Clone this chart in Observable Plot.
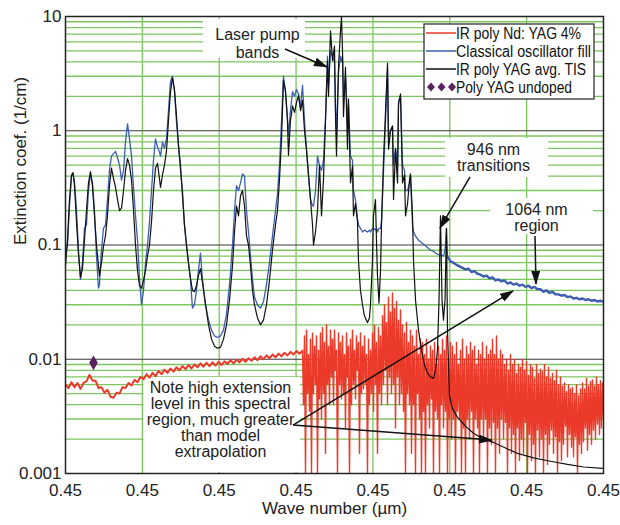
<!DOCTYPE html>
<html><head><meta charset="utf-8">
<script src="https://cdn.jsdelivr.net/npm/d3@7"></script>
<script src="https://cdn.jsdelivr.net/npm/@observablehq/plot@0.6"></script>
<style>
html,body{margin:0;padding:0;background:#fff;}
#chart{position:relative;width:620px;height:525px;}
#chart svg text{font-family:'Liberation Sans',Arial,Helvetica,sans-serif;}
#chart g[aria-label*="axis"], #chart g[aria-label*="axis"] text{font-size:17px;}
</style></head><body><div id="chart"></div>
<script>
// ---- axis tick labels ----
const xTicks = [0,1,2,3,4,5,6,7];
const xTickLabels = ["0.45","0.45","0.45","0.45","0.45","0.45","0.45","0.45"];
const yTicks = [0.001,0.01,0.1,1,10];
const yTickLabels = ["0.001","0.01","0.1","1","10"];
const decades = [0.001,0.01,0.1,1];
const mantissas = [2,3,4,5,6,7,8,9];
const xLabel = "Wave number (\u00b5m)";
const yLabel = "Extinction coef. (1/cm)";
const seriesNames = ["IR poly Nd: YAG 4%","Classical oscillator fill","IR poly YAG avg. TIS","Poly YAG undoped"];

// ---- shared wave positions for TIS and oscillator curves ----
const waveX = [
0,0.026,0.052,0.078,0.098,0.117,0.143,0.169,0.195,0.221,
0.247,0.273,0.299,0.325,0.351,0.377,0.403,0.429,0.442,0.468,
0.494,0.520,0.546,0.572,0.598,0.625,0.651,0.677,0.703,0.729,
0.755,0.781,0.807,0.833,0.859,0.885,0.911,0.937,0.963,0.989,
1.015,1.041,1.067,1.093,1.119,1.145,1.171,1.197,1.223,1.236,
1.262,1.288,1.314,1.340,1.366,1.392,1.418,1.444,1.470,1.496,
1.522,1.548,1.574,1.600,1.626,1.652,1.678,1.704,1.730,1.756,
1.782,1.822,1.861,1.900,1.939,1.978,2.017,2.056,2.095,2.134,
2.173,2.199,2.225,2.251,2.277,2.303,2.329,2.355,2.381,2.407,
2.433,2.459,2.498,2.537,2.576,2.615,2.654,2.693,2.732,2.758,
2.784,2.810,2.836,2.862,2.888,2.901,2.927,2.954,2.980,3.006,
3.032,3.058,3.084,3.110,3.136,3.162,3.188,3.214,3.227,3.253,
3.279,3.305,3.331,3.357,3.383,3.409,3.422,3.448,3.474,3.500,
3.513,3.526,3.552,3.578,3.591,3.604,3.617,3.643,3.669,3.682,
3.708,3.734,3.747,3.773,3.799,3.812,3.838,3.864,3.890,3.929,
3.955,3.968,3.994,4.007,4.033,4.046,4.059,4.079,4.099,4.112,
4.138,4.164,4.190,4.203,4.229,4.255,4.268,4.294,4.320,4.333,
4.359,4.385,4.411,4.424,4.450,4.476,4.489,4.515,4.528,4.554,
4.593,4.632,4.671,4.710,4.749,4.788,4.814,4.840,4.860,4.879,
4.899,4.918,4.938,4.957,4.970];
// IR poly YAG avg. TIS (black)
const tis = [
.066,.11,.25,.41,.43,.33,.16,.083,.052,.062,
.11,.20,.35,.44,.33,.18,.10,.066,.054,.07,
.097,.12,.18,.33,.47,.38,.32,.25,.20,.21,
.30,.45,.57,.50,.37,.20,.10,.06,.044,.042,
.049,.06,.08,.10,.16,.30,.47,.52,.38,.32,
.41,.50,.67,1.23,2.2,2.9,2.3,1.35,.74,.50,
.27,.15,.10,.07,.051,.04,.039,.044,.054,.062,
.047,.03,.02,.015,.013,.0125,.0127,.015,.02,.033,
.066,.13,.22,.18,.27,.30,.22,.12,.10,.066,
.04,.03,.023,.02,.022,.03,.049,.09,.15,.20,
.37,.82,2.75,2.25,1.23,.61,1.23,1.65,1.45,1.77,
2.03,1.5,1.85,1.0,.67,.41,.25,.15,.10,.13,
.20,.50,.18,.38,1.23,4.1,2.0,7.5,4.1,5.5,
1.33,.60,3.6,7.5,10,5.1,1.33,3.6,.69,1.9,
.35,.49,.18,.23,.16,.073,.04,.03,.024,.021,
.023,.03,.073,.18,.25,.11,.054,.031,.06,.16,
.55,1.5,3.9,.69,1.0,1.1,.25,.69,.35,1.7,
2.1,.35,.41,.18,.23,.37,.42,.18,.073,.033,
.018,.012,.0089,.0076,.007,.0068,.008,.012,.033,.18,
.033,.022,.033,.14,.018];
const tisTailX = [4.996,5.035,5.100,5.204,5.309,5.439,5.569,5.725,5.881,6.089,6.310,6.532,6.740,7.0];
const tisTail = [.0048,.0037,.0031,.0026,.00225,.002,.00187,.00167,.0015,.00137,.00128,.0012,.00114,.00111];
// Classical oscillator fill (blue)
const osc = [
.08,.10,.22,.40,.42,.36,.20,.09,.05,.07,
.14,.15,.30,.42,.35,.20,.08,.042,.045,.09,
.14,.15,.25,.45,.60,.63,.66,.58,.50,.37,
.45,.80,1.15,.85,.60,.32,.18,.11,.05,.03,
.04,.07,.10,.16,.30,.55,.85,.72,.65,.60,
.80,.70,.85,1.5,2.7,3.0,2.2,1.2,.75,.45,
.30,.15,.10,.07,.05,.028,.03,.04,.06,.085,
.05,.03,.022,.018,.016,.0155,.016,.018,.025,.045,
.10,.20,.33,.30,.35,.42,.40,.20,.13,.08,
.05,.035,.03,.028,.032,.045,.07,.12,.20,.28,
.50,1.2,3.0,2.2,1.3,.90,1.5,2.2,2.0,2.3,
2.1,1.6,2.5,1.2,.70,.40,.25,.22,.22,.30,
.60,.50,.45,.55,1.3,4.5,2.5,5.0,4.5,4.0,
1.6,1.0,3.2,4.5,4.0,4.5,2.0,3.0,1.2,1.7,
.60,.55,.30,.25,.17,.15,.14,.13,.135,.13,
.135,.13,.14,.14,.135,.14,.13,.14,.14,.16,
.45,1.2,3.5,.90,1.0,1.1,.50,.70,.50,1.8,
2.0,.50,.45,.30,.30,.35,.40,.15,.13,.12,
.11,.105,.10,.095,.09,.088,.085,.083,.082,.082,
.081,.08,.09,.14,.079];
const oscTailStart = 5.009, oscTailStep = 0.039033;
const oscTail = [.072,.070,.067,.065,.063,.061,.062,.058,.059,.056,.055,.053,.054,.051,.052,.049,.050,.048,.049,.046,.047,.045,.046,.044,.045,.043,.044,.042,.043,.041,.041,.039,.040,.038,.039,.037,.037,.036,.0365,.035,.0355,.034,.0345,.0335,.034,.033,.0335,.0325,.033,.032,.0325,.0318];
// IR poly Nd:YAG 4% (red), smooth-ish part
const redLeftStart = 0, redLeftStep = 0.039033;
const redLeft = [.0060,.0056,.0063,.0057,.0062,.0055,.0062,.0064,.0073,.0065,
.0065,.0056,.0057,.0051,.0054,.0047,.0046,.0051,.0050,.0057,
.0056,.0062,.0059,.0066,.0063,.0070,.0067,.0074,.0069,.0076,
.0071,.0079,.0074,.0081,.0076,.0083,.0078,.0085,.0080,.0087,
.0082,.0089,.0083,.0090,.0085,.0092,.0086,.0093,.0087,.0094,
.0088,.0095,.0089,.0096,.0091,.0098,.0092,.0099,.0094,.0101,
.0095,.0102,.0097,.0104,.0098,.0106,.0100,.0108,.0102,.0110,
.0104,.0112,.0106,.0114,.0108,.0116,.0110,.0118,.0112,.0118];
// red, noisy part
const redNoiseStart = 3.0836, redNoiseStep = 0.013011;
const redNoise = [
.012,.004,.016,.001,.018,.005,.011,.0035,.015,.001,
.017,.005,.013,.006,.016,.001,.012,.0045,.017,.003,
.019,.005,.014,.0015,.02,.006,.013,.004,.018,.007,
.015,.004,.018,.008,.012,.001,.017,.006,.014,.0045,
.016,.005,.011,.0025,.017,.007,.013,.001,.015,.004,
.018,.006,.012,.0045,.016,.008,.014,.0015,.017,.005,
.013,.0055,.016,.006,.011,.001,.015,.004,.012,.005,
.017,.0035,.02,.006,.014,.0015,.019,.005,.016,.004,
.024,.006,.03,.008,.021,.004,.035,.007,.026,.005,
.038,.006,.028,.0025,.032,.007,.022,.004,.027,.005,
.02,.0035,.017,.001,.021,.005,.014,.004,.018,.0015,
.016,.004,.013,.001,.018,.005,.011,.003,.015,.001,
.014,.0035,.011,.001,.015,.004,.01,.0025,.013,.0045,
.012,.001,.014,.0035,.009,.003,.013,.001,.011,.004,
.015,.0025,.012,.0035,.016,.001,.01,.003,.014,.002,
.013,.003,.011,.001,.014,.0035,.009,.003,.012,.001,
.015,.0025,.01,.001,.013,.003,.011,.002,.014,.0035,
.012,.001,.013,.003,.009,.0025,.012,.001,.011,.003,
.014,.002,.01,.003,.013,.001,.011,.0025,.012,.0018,
.015,.0028,.011,.001,.016,.0025,.01,.0015,.012,.003,
.011,.002,.009,.0028,.01,.001,.008,.0025,.011,.0015,
.009,.0022,.01,.001,.0075,.0025,.009,.0013,.0085,.002,
.01,.0015,.008,.0028,.0095,.001,.0072,.0022,.009,.0013,
.0085,.0018,.0068,.001,.009,.0024,.0075,.0014,.0082,.002,
.0078,.001,.009,.0022,.007,.0012,.0085,.0018,.0068,.0024,
.0075,.0015,.0065,.0021,.008,.001,.006,.0019,.007,.0013,
.0058,.0018,.0062,.0026,.0052,.0014,.006,.0022,.0055,.0017,
.0057,.0014,.005,.0021,.006,.001,.0048,.0018,.0055,.0015,
.0062,.0019,.0055,.0025,.0068,.0016,.0058,.0022,.0064,.0018,
.0066,.0024,.0058,.002,.007,.0027,.006,.0022,.0065,.0025,.0062,.003];
// Poly YAG undoped
const undopedX = [0.364];
const undopedY = [0.0093];

// ---- annotations (data coordinates) ----
const annotText = [
 {x:2.498,y:6.95,t:"Laser pump"},{x:2.498,y:4.85,t:"bands"},
 {x:5.569,y:0.68,t:"946 nm"},{x:5.569,y:0.49,t:"transitions"},
 {x:6.128,y:0.203,t:"1064 nm"},{x:6.128,y:0.148,t:"region"},
 {x:2.017,y:0.0056,t:"Note high extension"},{x:2.017,y:0.00405,t:"level in this spectral"},
 {x:2.017,y:0.00292,t:"region, much greater"},{x:2.017,y:0.00212,t:"than model"},{x:2.017,y:0.00154,t:"extrapolation"}];
const annotBoxes = [
 {x1:1.796,x2:3.123,y1:4.29,y2:9.41},
 {x1:4.944,x2:6.284,y1:0.39,y2:0.855},
 {x1:5.530,x2:6.870,y1:0.1236,y2:0.255},
 {x1:1.02,x2:3.058,y1:0.00102,y2:0.00692}];
const annotArrows = [
 {x1:2.862,y1:5.14,x2:3.409,y2:3.58},
 {x1:5.270,y1:0.390,x2:4.879,y2:0.1394},
 {x1:6.115,y1:0.1187,x2:6.128,y2:0.0451},
 {x1:2.967,y1:0.00263,x2:5.829,y2:0.0392},
 {x1:2.967,y1:0.00263,x2:5.556,y2:0.00194}];

// ---- build tables ----
const tisData = waveX.map((x,i)=>({x,y:tis[i]})).concat(tisTailX.map((x,i)=>({x,y:tisTail[i]})));
const oscData = waveX.map((x,i)=>({x,y:osc[i]}));
const oscTailData = [{x:waveX[waveX.length-1], y:osc[osc.length-1]}].concat(oscTail.map((y,i)=>({x:oscTailStart+i*oscTailStep,y})));
const redLeftData = redLeft.map((y,i)=>({x:redLeftStart+i*redLeftStep,y}));
const redNoiseData = redNoise.map((y,i)=>({x:redNoiseStart+i*redNoiseStep,y}));
const undopedData = undopedX.map((x,i)=>({x,y:undopedY[i]}));
const minorGrid = decades.flatMap(d=>mantissas.map(m=>d*m));
const majorGrid = [0.01,0.1,1];

const RED="#ec3a2a", BLUE="#3d5db0", BLACK="#111", PURPLE="#5a2160", GREEN="#7cc660";

const plot = Plot.plot({
  width:620, height:525, marginTop:16, marginRight:17, marginBottom:52, marginLeft:65,
  style:{background:"white", fontFamily:"'Liberation Sans', Arial, sans-serif", fontSize:"17px", color:"#222", overflow:"visible"},
  x:{domain:[0,7], ticks:xTicks, tickFormat:d=>xTickLabels[d], tickSize:0, tickPadding:10, label:null},
  y:{type:"log", domain:[0.001,10], ticks:yTicks, tickFormat:d=>yTickLabels[yTicks.indexOf(d)], tickSize:0, tickPadding:4, label:null},
  marks:[
    Plot.ruleX(xTicks.slice(1,-1), {stroke:GREEN, strokeWidth:1.3}),
    Plot.ruleY(minorGrid, {stroke:GREEN, strokeWidth:1.3}),
    Plot.ruleY(majorGrid, {stroke:"#3a3a3a", strokeWidth:1.2}),
    Plot.rect(annotBoxes, {x1:"x1",x2:"x2",y1:"y1",y2:"y2", fill:"white"}),
    Plot.line(redLeftData, {x:"x",y:"y", stroke:RED, strokeWidth:2, clip:true}),
    Plot.line(redNoiseData, {x:"x",y:"y", stroke:RED, strokeWidth:1.4, clip:true}),
    Plot.line(oscData, {x:"x",y:"y", stroke:BLUE, strokeWidth:1.3, clip:true}),
    Plot.line(oscTailData, {x:"x",y:"y", stroke:BLUE, strokeWidth:2.4, clip:true}),
    Plot.line(tisData, {x:"x",y:"y", stroke:BLACK, strokeWidth:1.2, clip:true}),
    Plot.dot(undopedData, {x:"x",y:"y", symbol:"diamond", fill:PURPLE, r:4.5}),
    Plot.frame({stroke:"#222", strokeWidth:1.5}),
    Plot.text(annotText, {x:"x",y:"y",text:"t", fontSize:16, fill:"#222"}),
    Plot.text([xLabel], {frameAnchor:"bottom", dy:40, text:d=>d, fontSize:17, fill:"#222"}),
    Plot.text([yLabel], {frameAnchor:"left", dx:-45, rotate:-90, text:d=>d, fontSize:17, fill:"#222"})
  ]
});
document.getElementById("chart").appendChild(plot);

// ---- arrows and legend ----
const svg = d3.select(plot);
const sx = plot.scale("x"), sy = plot.scale("y");
const defs = svg.append("defs");
defs.append("marker").attr("id","ah").attr("viewBox","0 0 14 9").attr("refX",13).attr("refY",4.5)
  .attr("markerWidth",14).attr("markerHeight",9).attr("markerUnits","userSpaceOnUse").attr("orient","auto")
  .append("path").attr("d","M0,0L14,4.5L0,9Z").attr("fill","#111");
const ag = svg.append("g");
annotArrows.forEach(a=>{
  ag.append("line").attr("x1",sx.apply(a.x1)).attr("y1",sy.apply(a.y1)).attr("x2",sx.apply(a.x2)).attr("y2",sy.apply(a.y2))
    .attr("stroke","#111").attr("stroke-width",1.5).attr("marker-end","url(#ah)");
});
const lg = svg.append("g").attr("transform","translate(424,24)").attr("text-anchor","start");
lg.append("rect").attr("width",170).attr("height",75).attr("fill","white").attr("stroke","#222").attr("stroke-width",1.2);
const lens = [125,135,130,116];
const cols = [RED,BLUE,BLACK,PURPLE];
seriesNames.forEach((name,i)=>{
  const cy = 9 + i*18;
  if (i<3) {
    lg.append("line").attr("x1",2).attr("x2",32).attr("y1",cy).attr("y2",cy).attr("stroke",cols[i]).attr("stroke-width",1.5);
  } else {
    [7,17.5,28].forEach(cx=>lg.append("path").attr("d",`M${cx},${cy-4.5}L${cx+4},${cy}L${cx},${cy+4.5}L${cx-4},${cy}Z`).attr("fill",PURPLE));
  }
  lg.append("text").attr("x",32).attr("y",cy).attr("dy","0.36em").attr("font-size",16).attr("text-anchor","start")
    .attr("textLength",lens[i]).attr("lengthAdjust","spacingAndGlyphs").attr("fill","#111").text(name);
});
</script></body></html>
